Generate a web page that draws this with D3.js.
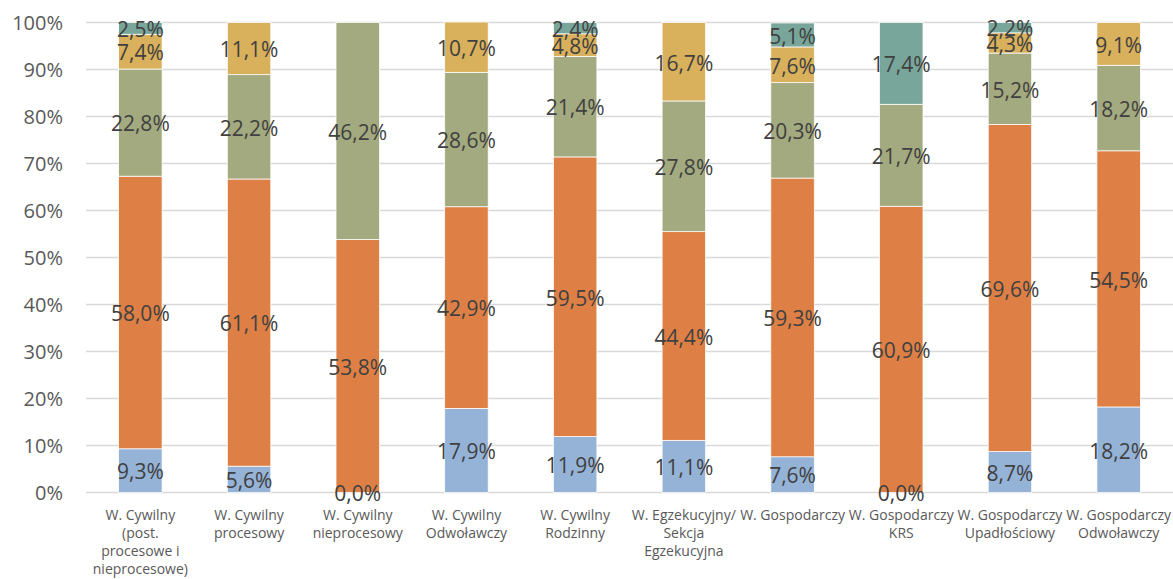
<!DOCTYPE html>
<html>
<head>
<meta charset="utf-8">
<script src="https://cdn.jsdelivr.net/npm/d3@7"></script>
<style>
  html, body { margin: 0; padding: 0; background: #fff; }
  svg { display: block; font-family: 'Open Sans', 'DejaVu Sans', sans-serif; }
</style>
</head>
<body>
<svg id="chart" width="1173" height="579"></svg>
<script>
// ---- data ----
const categories = [
  "W. Cywilny|(post.|procesowe i|nieprocesowe)",
  "W. Cywilny|procesowy",
  "W. Cywilny|nieprocesowy",
  "W. Cywilny|Odwoławczy",
  "W. Cywilny|Rodzinny",
  "W. Egzekucyjny/|Sekcja|Egzekucyjna",
  "W. Gospodarczy",
  "W. Gospodarczy|KRS",
  "W. Gospodarczy|Upadłościowy",
  "W. Gospodarczy|Odwoławczy"
];
const seriesA = [9.3, 5.6, 0.0, 17.9, 11.9, 11.1, 7.6, 0.0, 8.7, 18.2];      // blue
const seriesB = [58.0, 61.1, 53.8, 42.9, 59.5, 44.4, 59.3, 60.9, 69.6, 54.5]; // orange
const seriesC = [22.8, 22.2, 46.2, 28.6, 21.4, 27.8, 20.3, 21.7, 15.2, 18.2]; // olive
const seriesD = [7.4, 11.1, null, 10.7, 4.8, 16.7, 7.6, null, 4.3, 9.1];      // gold
const seriesE = [2.5, null, null, null, 2.4, null, 5.1, 17.4, 2.2, null];     // teal
const yTicks = [0, 10, 20, 30, 40, 50, 60, 70, 80, 90, 100];

const seriesList = [
  { key: "A", values: seriesA, color: "#95B3D7" },
  { key: "B", values: seriesB, color: "#DE8046" },
  { key: "C", values: seriesC, color: "#A3AA7F" },
  { key: "D", values: seriesD, color: "#D9B05B" },
  { key: "E", values: seriesE, color: "#79A69A" }
];

const rows = categories.map((c, i) => {
  const r = { cat: c };
  seriesList.forEach(s => { r[s.key] = s.values[i] == null ? 0 : s.values[i]; });
  return r;
});

const svg = d3.select("#chart");
const x = d3.scaleBand().domain(categories).range([86, 1173]).paddingInner(0.6).paddingOuter(0.3);
const y = d3.scaleLinear().domain([0, 100]).range([492.5, 22.5]);

// gridlines
svg.append("g").selectAll("line").data(yTicks).join("line")
  .attr("x1", 86).attr("x2", 1173)
  .attr("y1", d => y(d)).attr("y2", d => y(d))
  .attr("stroke", "#d9d9d9").attr("stroke-width", 1.5);

// y axis labels
const yAxis = d3.axisLeft(y).tickValues(yTicks).tickFormat(d => d + "%").tickSize(0).tickPadding(0);
const yg = svg.append("g").attr("transform", "translate(63,0)").call(yAxis);
yg.select(".domain").remove();
yg.selectAll("text").attr("font-size", 20).attr("fill", "#595959")
  .attr("font-family", "'Open Sans', sans-serif").attr("dy", "0.35em");

// stacked bars
const stack = d3.stack().keys(seriesList.map(s => s.key));
const stacked = stack(rows);

stacked.forEach((layer, li) => {
  const s = seriesList[li];
  const g = svg.append("g");
  g.selectAll("rect").data(layer.filter((d, i) => s.values[i] != null && s.values[i] > 0)).join("rect")
    .attr("x", d => x(d.data.cat))
    .attr("width", x.bandwidth())
    .attr("y", d => y(d[1]))
    .attr("height", d => y(d[0]) - y(d[1]))
    .attr("fill", s.color)
    .attr("stroke", "#ffffff").attr("stroke-width", 0.75);
});

// data labels
stacked.forEach((layer, li) => {
  const s = seriesList[li];
  svg.append("g").selectAll("text")
    .data(layer.map((d, i) => ({ d, v: s.values[i] })).filter(o => o.v != null))
    .join("text")
    .attr("x", o => x(o.d.data.cat) + x.bandwidth() / 2)
    .attr("y", o => y((o.d[0] + o.d[1]) / 2))
    .attr("dy", "0.42em")
    .attr("text-anchor", "middle")
    .attr("font-size", 21)
    .attr("fill", "#404040")
    .text(o => o.v.toFixed(1).replace(".", ",") + "%");
});

// x axis labels
const xAxis = d3.axisBottom(x).tickSize(0).tickFormat("");
const xg = svg.append("g").attr("transform", "translate(0,492.5)").call(xAxis);
xg.select(".domain").remove();
xg.selectAll(".tick").each(function (d) {
  const t = d3.select(this).append("text")
    .attr("text-anchor", "middle")
    .attr("fill", "#595959")
    .attr("font-size", 14)
    .attr("font-family", "'Open Sans', sans-serif");
  d.split("|").forEach((line, i) => {
    t.append("tspan").attr("x", 0).attr("y", 27 + i * 18.3).text(line);
  });
});
</script>
</body>
</html>
